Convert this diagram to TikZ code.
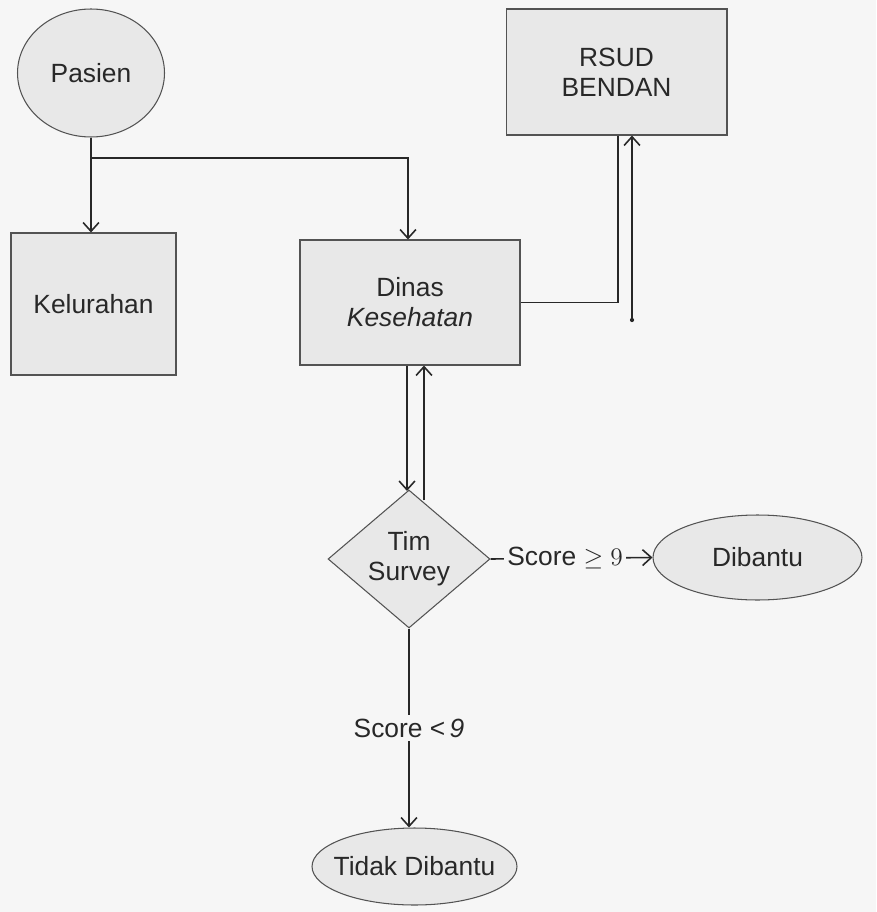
\documentclass[tikz,border=0pt]{standalone}
\usepackage[no-math]{fontspec}
\setmainfont{Liberation Sans}
\usetikzlibrary{shapes.geometric,arrows.meta,calc}
\definecolor{bgc}{RGB}{246,246,246}
\definecolor{shfill}{RGB}{232,232,232}
\definecolor{ink}{RGB}{40,40,40}
\begin{document}
\begin{tikzpicture}[x=0.02cm,y=-0.02cm,
  every node/.style={font=\fontsize{15}{17}\selectfont, text=ink, align=center, inner sep=0pt},
  shp/.style={draw=ink!80, line width=0.6pt, fill=shfill},
  boxnode/.style={shp, rectangle},
  ellnode/.style={shp, ellipse},
  dianode/.style={shp, diamond},
  conn/.style={draw=ink, line width=0.9pt},
  arr/.style={conn, -{Straight Barb[length=5pt,width=9pt,line width=0.9pt]}},
  lbl/.style={fill=bgc, inner sep=2pt}
]
\fill[bgc] (0,0) rectangle (876,912);
\useasboundingbox (0,0) rectangle (876,912);

\node[ellnode, minimum width=2.94cm, minimum height=2.56cm] (pasien) at (91,73) {\makebox[0pt]{Pasien}};
\node[boxnode, minimum width=3.3cm, minimum height=2.84cm] (kel) at (93.5,304) {Kelurahan};
\node[boxnode, minimum width=4.4cm, minimum height=2.5cm] (dinas) at (410,302.5) {Dinas\\\itshape Kesehatan};
\node[boxnode, minimum width=4.42cm, minimum height=2.52cm] (rsud) at (616.5,72) {RSUD\\BENDAN};
\node[dianode, minimum width=3.24cm, minimum height=2.76cm] (tim) at (409,559) {Tim\\Survey};
\node[ellnode, minimum width=4.18cm, minimum height=1.7cm] (dibantu) at (757.5,557.5) {\makebox[0pt]{Dibantu}};
\node[ellnode, minimum width=4.1cm, minimum height=1.54cm] (tidak) at (414.5,866.5) {\makebox[0pt]{Tidak Dibantu}};

\coordinate (j) at (91,158);
\coordinate (rs2) at (632,320);

% Pasien -> Kelurahan, Pasien -> Dinas
\draw[arr] (pasien.south) -- (pasien.south |- kel.north);
\draw[arr] (j) -| ($(dinas.north)+(-2,0)$);

% RSUD <-> Dinas
\draw[conn] ($(rsud.south)+(1.5,0)$) |- (dinas.east);
\draw[arr] (rs2) -- (rs2 |- rsud.south);
\fill[ink] (rs2) circle (1.2pt);

% Dinas <-> Tim Survey
\draw[arr] ($(dinas.south)+(-3,0)$) -- ($(tim.north)+(-2,1.5)$);
\draw[arr] ($(tim.north)+(15,11)$) -- ($(dinas.south)+(14,0)$);

% Tim Survey -> Dibantu / Tidak Dibantu
\draw[arr] (tim.east) -- node[lbl, pos=0.46] {Score \(\geq 9\)} (dibantu.west);
\draw[arr] (tim.south) -- node[lbl] {Score {<}\,\textit{9}} (tim.south |- tidak.north);
\end{tikzpicture}
\end{document}
